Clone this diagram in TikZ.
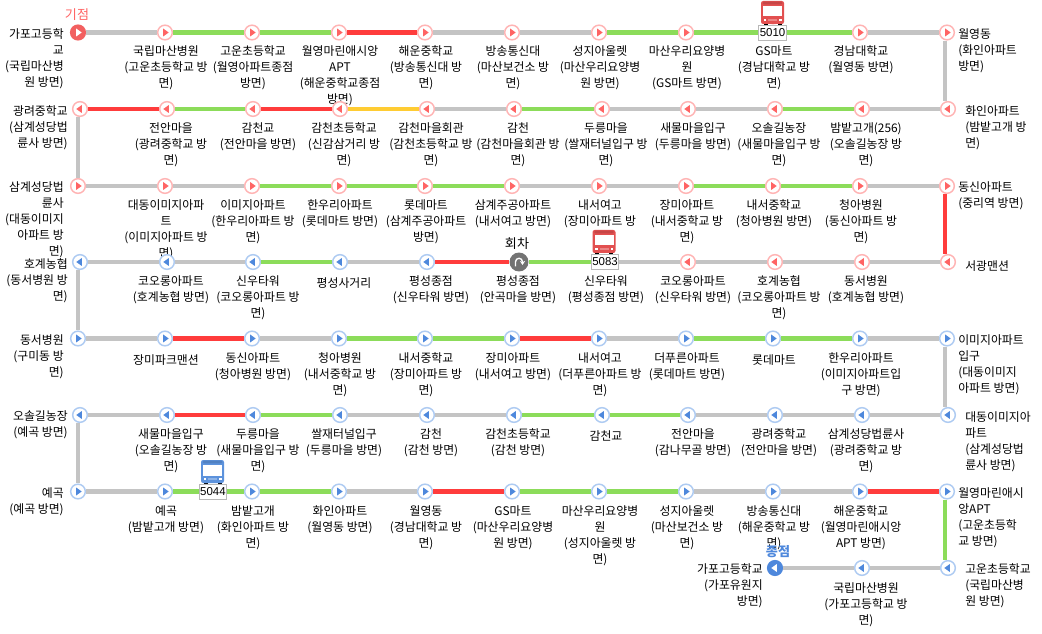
\documentclass[tikz,border=0pt]{standalone}
\usepackage{fontspec}
\setmainfont{Noto Sans CJK KR}
\newfontfamily\numfont{Liberation Sans}
\usetikzlibrary{arrows.meta}
\definecolor{lgray}{HTML}{C4C4C4}
\definecolor{lgreen}{HTML}{8CDC5A}
\definecolor{lred}{HTML}{FF3C3C}
\definecolor{lyellow}{HTML}{FFCC33}
\definecolor{pinkring}{HTML}{FFB4B4}
\definecolor{pinkfill}{HTML}{FF6464}
\definecolor{bluering}{HTML}{AECBF2}
\definecolor{bluefill}{HTML}{4E88DC}
\definecolor{startred}{HTML}{F26060}
\definecolor{busred}{HTML}{E25050}
\definecolor{busblue}{HTML}{5C92DC}
\tikzset{
  seg/.style={line width=3.7pt},
  stopbase/.style={circle,draw,inner sep=0pt,minimum size=11pt,line width=1.1pt,fill=white},
  rtri/.style={path picture={\fill[#1] ([shift={(-1.4pt,3pt)}]path picture bounding box.center) -- ([shift={(2.8pt,0pt)}]path picture bounding box.center) -- ([shift={(-1.4pt,-3pt)}]path picture bounding box.center) -- cycle;}},
  ltri/.style={path picture={\fill[#1] ([shift={(1.4pt,3pt)}]path picture bounding box.center) -- ([shift={(-2.8pt,0pt)}]path picture bounding box.center) -- ([shift={(1.4pt,-3pt)}]path picture bounding box.center) -- cycle;}},
  prstop/.style={stopbase,draw=pinkring,rtri=pinkfill},
  plstop/.style={stopbase,draw=pinkring,ltri=pinkfill},
  brstop/.style={stopbase,draw=bluering,rtri=bluefill},
  blstop/.style={stopbase,draw=bluering,ltri=bluefill},
  startstop/.style={stopbase,draw=startred,fill=startred,rtri=white},
  endstop/.style={stopbase,draw=bluefill,fill=bluefill,ltri=white},
  turnstop/.style={circle,inner sep=0pt,minimum size=14.2pt,fill=black!55,
    path picture={\draw[white,line width=1pt,-{Stealth[length=3pt,width=4pt]}]
      ([shift={(-2.6pt,-3.2pt)}]path picture bounding box.center) -- ++(0pt,3.4pt) arc[start angle=180,end angle=0,radius=2.6pt] -- ++(0pt,-2.4pt);}},
  labbase/.style={inner sep=0pt,font=\fontsize{8.9}{12}\selectfont,yshift=3.8pt,execute at begin node={\rule{0pt}{9pt}}},
  labc/.style={labbase,anchor=north,align=center},
  labr/.style={labbase,anchor=north east,align=right},
  labl/.style={labbase,anchor=north west,align=left},
  headlab/.style={inner sep=0pt,font=\fontsize{9.8}{12}\selectfont},
  numbox/.style={draw=black!28,fill=white,line width=0.75pt,inner sep=0pt,minimum width=20.5pt,minimum height=11.5pt,font=\numfont\fontsize{8.6}{10}\selectfont},
}
\newcommand\lbc[3]{\node[labc] (c#1x#2) at (#1,#2) {#3};}
\newcommand\lbr[3]{\node[labr] (r#1x#2) at (#1,#2) {#3};}
\newcommand\lbl[3]{\node[labl] (l#1x#2) at (#1,#2) {#3};}
% x centre, y top, colour
\newcommand\busicon[3]{%
  \begin{scope}[shift={(#1,#2)}]
    \fill[black] (-9,20) rectangle (-5,24.5);
    \fill[black] (5,20) rectangle (9,24.5);
    \fill[#3,rounded corners=1.6pt] (-11.5,0) rectangle (11.5,23);
    \fill[#3!88!black,rounded corners=1.2pt] (-10,0.6) rectangle (10,3.4);
    \fill[white] (-9.5,5) rectangle (9.5,15.5);
    \fill[white] (-9,18) rectangle (-6.5,19.6);
    \fill[white] (6.5,18) rectangle (9,19.6);
    \fill[#3!70!white] (-4.5,18) rectangle (4.5,19.6);
  \end{scope}}
\begin{document}
\begin{tikzpicture}[x=0.75pt,y=-0.75pt]
\useasboundingbox (0,0) rectangle (1042,634);
\fill[white] (0,0) rectangle (1042,634);
\coordinate (rv) at (945,0);
\coordinate (lv) at (78,0);
% labels, row 1
\lbr{64}{33}{가포고등학\\교\\(국립마산병\\원 방면)}
\lbc{166}{50}{국립마산병원\\(고운초등학교 방\\면)}
\lbc{253}{50}{고운초등학교\\(월영아파트종점\\방면)}
\lbc{340}{50}{월영마린애시앙\\APT\\(해운중학교종점\\방면)}
\lbc{426}{50}{해운중학교\\(방송통신대 방\\면)}
\lbc{513}{50}{방송통신대\\(마산보건소 방\\면)}
\lbc{600}{50}{성지아울렛\\(마산우리요양병\\원 방면)}
\lbc{687}{50}{마산우리요양병\\원\\(GS마트 방면)}
\lbc{774}{50}{GS마트\\(경남대학교 방\\면)}
\lbc{861}{50}{경남대학교\\(월영동 방면)}
\lbl{958}{33}{월영동\\(화인아파트\\방면)}
% row 2
\lbr{68}{110}{광려중학교\\(삼계성당법\\륜사 방면)}
\lbc{171}{127}{전안마을\\(광려중학교 방\\면)}
\lbc{258}{127}{감천교\\(전안마을 방면)}
\lbc{344}{127}{감천초등학교\\(신감삼거리 방\\면)}
\lbc{431}{127}{감천마을회관\\(감천초등학교 방\\면)}
\lbc{518}{127}{감천\\(감천마을회관 방\\면)}
\lbc{606}{127}{두릉마을\\(쌀재터널입구 방\\면)}
\lbc{693}{127}{새물마을입구\\(두릉마을 방면)}
\lbc{779}{127}{오솔길농장\\(새물마을입구 방\\면)}
\lbc{866}{127}{밤밭고개(256)\\(오솔길농장 방\\면)}
\lbl{965}{110}{화인아파트\\(밤밭고개 방\\면)}
% row 3
\lbr{64}{186}{삼계성당법\\륜사\\(대동이미지\\아파트 방\\면)}
\lbc{166}{204}{대동이미지아파\\트\\(이미지아파트 방\\면)}
\lbc{253}{204}{이미지아파트\\(한우리아파트 방\\면)}
\lbc{340}{204}{한우리아파트\\(롯데마트 방면)}
\lbc{426}{204}{롯데마트\\(삼계주공아파트\\방면)}
\lbc{513}{204}{삼계주공아파트\\(내서여고 방면)}
\lbc{600}{204}{내서여고\\(장미아파트 방\\면)}
\lbc{687}{204}{장미아파트\\(내서중학교 방\\면)}
\lbc{774}{204}{내서중학교\\(청아병원 방면)}
\lbc{861}{204}{청아병원\\(동신아파트 방\\면)}
\lbl{958}{186}{동신아파트\\(중리역 방면)}
% row 4
\lbr{68}{263}{호계농협\\(동서병원 방\\면)}
\lbc{171}{280}{코오롱아파트\\(호계농협 방면)}
\lbc{258}{280}{신우타워\\(코오롱아파트 방\\면)}
\lbc{344}{280}{평성사거리}
\lbc{431}{280}{평성종점\\(신우타워 방면)}
\lbc{518}{280}{평성종점\\(안곡마을 방면)}
\lbc{606}{280}{신우타워\\(평성종점 방면)}
\lbc{693}{280}{코오롱아파트\\(신우타워 방면)}
\lbc{779}{280}{호계농협\\(코오롱아파트 방\\면)}
\lbc{866}{280}{동서병원\\(호계농협 방면)}
\lbl{965}{263}{서광맨션}
% row 5
\lbr{64}{339}{동서병원\\(구미동 방\\면)}
\lbc{166}{357}{장미파크맨션}
\lbc{253}{357}{동신아파트\\(청아병원 방면)}
\lbc{340}{357}{청아병원\\(내서중학교 방\\면)}
\lbc{426}{357}{내서중학교\\(장미아파트 방\\면)}
\lbc{513}{357}{장미아파트\\(내서여고 방면)}
\lbc{600}{357}{내서여고\\(더푸른아파트 방\\면)}
\lbc{687}{357}{더푸른아파트\\(롯데마트 방면)}
\lbc{774}{357}{롯데마트}
\lbc{861}{357}{한우리아파트\\(이미지아파트입\\구 방면)}
\lbl{958}{339}{이미지아파트\\입구\\(대동이미지\\아파트 방면)}
% row 6
\lbr{68}{415}{오솔길농장\\(예곡 방면)}
\lbc{171}{433}{새물마을입구\\(오솔길농장 방\\면)}
\lbc{258}{433}{두릉마을\\(새물마을입구 방\\면)}
\lbc{344}{433}{쌀재터널입구\\(두릉마을 방면)}
\lbc{431}{433}{감천\\(감천 방면)}
\lbc{518}{433}{감천초등학교\\(감천 방면)}
\lbc{606}{433}{감천교}
\lbc{693}{433}{전안마을\\(감나무골 방면)}
\lbc{779}{433}{광려중학교\\(전안마을 방면)}
\lbc{866}{433}{삼계성당법륜사\\(광려중학교 방\\면)}
\lbl{965}{416}{대동이미지아\\파트\\(삼계성당법\\륜사 방면)}
% row 7
\lbr{64}{492}{예곡\\(예곡 방면)}
\lbc{166}{510}{예곡\\(밤밭고개 방면)}
\lbc{253}{510}{밤밭고개\\(화인아파트 방\\면)}
\lbc{340}{510}{화인아파트\\(월영동 방면)}
\lbc{426}{510}{월영동\\(경남대학교 방\\면)}
\lbc{513}{510}{GS마트\\(마산우리요양병\\원 방면)}
\lbc{600}{510}{마산우리요양병\\원\\(성지아울렛 방\\면)}
\lbc{687}{510}{성지아울렛\\(마산보건소 방\\면)}
\lbc{774}{510}{방송통신대\\(해운중학교 방\\면)}
\lbc{861}{510}{해운중학교\\(월영마린애시앙\\APT 방면)}
\lbl{958}{492}{월영마린애시\\앙APT\\(고운초등학\\교 방면)}
% row 8
\lbr{763}{568}{가포고등학교\\(가포유원지\\방면)}
\lbc{866}{587}{국립마산병원\\(가포고등학교 방\\면)}
\lbl{965}{568}{고운초등학교\\(국립마산병\\원 방면)}
% heads
\node[headlab,text=pinkfill] (kijeom) at (77,15) {기점};
\node[headlab,text=bluefill,font=\fontsize{9.8}{12}\selectfont\bfseries] (jongjeom) at (778,552) {종점};
\node[headlab] (hoecha) at (517,244) {회차};
% stops
\node[startstop] (s1a) at (78,32.5) {};
\foreach \n/\x in {b/165,c/252,d/339,e/425,f/512,g/599,h/686,i/773,j/860,k/947} \node[prstop] (s1\n) at (\x,32.5) {};
\foreach \n/\x in {a/80,b/167,c/253,d/340,e/427,f/514,g/602,h/688,i/775,j/862,k/948} \node[plstop] (s2\n) at (\x,109) {};
\foreach \n/\x in {a/78,b/165,c/252,d/339,e/425,f/512,g/599,h/686,i/773,j/860,k/947} \node[prstop] (s3\n) at (\x,186) {};
\foreach \n/\x in {a/80,b/167,c/253,d/340,e/427} \node[blstop] (s4\n) at (\x,262) {};
\node[turnstop] (s4f) at (519,262) {};
\foreach \n/\x in {g/604,h/688,i/775,j/862,k/948} \node[plstop] (s4\n) at (\x,262) {};
\foreach \n/\x in {a/78,b/165,c/252,d/339,e/425,f/512,g/599,h/686,i/773,j/860,k/947} \node[brstop] (s5\n) at (\x,338.5) {};
\foreach \n/\x in {a/80,b/167,c/253,d/340,e/427,f/514,g/602,h/688,i/775,j/862,k/948} \node[blstop] (s6\n) at (\x,415) {};
\foreach \n/\x in {a/78,b/165,c/252,d/339,e/425,f/512,g/599,h/686,i/773,j/860,k/947} \node[brstop] (s7\n) at (\x,491.5) {};
\node[endstop] (s8i) at (775,568) {};
\foreach \n/\x in {j/862,k/948} \node[blstop] (s8\n) at (\x,568) {};
% horizontal connectors
\foreach \a/\b/\c in {
 s1a/s1b/lgray,s1b/s1c/lgreen,s1c/s1d/lgreen,s1d/s1e/lred,s1e/s1f/lgray,s1f/s1g/lgray,s1g/s1h/lgreen,s1h/s1i/lgreen,s1i/s1j/lgreen,s1j/s1k/lgray,
 s2a/s2b/lred,s2b/s2c/lgreen,s2c/s2d/lred,s2d/s2e/lyellow,s2e/s2f/lgray,s2f/s2g/lgreen,s2g/s2h/lgray,s2h/s2i/lgray,s2i/s2j/lgreen,s2j/s2k/lgray,
 s3a/s3b/lgray,s3b/s3c/lgray,s3c/s3d/lgreen,s3d/s3e/lgreen,s3e/s3f/lgreen,s3f/s3g/lgray,s3g/s3h/lgray,s3h/s3i/lgreen,s3i/s3j/lgreen,s3j/s3k/lgray,
 s4a/s4b/lgray,s4b/s4c/lgray,s4c/s4d/lgreen,s4d/s4e/lgray,s4e/s4f/lred,s4f/s4g/lgreen,s4g/s4h/lgray,s4h/s4i/lgray,s4i/s4j/lgray,s4j/s4k/lgray,
 s5a/s5b/lgray,s5b/s5c/lred,s5c/s5d/lgray,s5d/s5e/lgreen,s5e/s5f/lgreen,s5f/s5g/lred,s5g/s5h/lgray,s5h/s5i/lgreen,s5i/s5j/lgreen,s5j/s5k/lgray,
 s6a/s6b/lgray,s6b/s6c/lred,s6c/s6d/lgreen,s6d/s6e/lgray,s6e/s6f/lgray,s6f/s6g/lgreen,s6g/s6h/lgreen,s6h/s6i/lgray,s6i/s6j/lgray,s6j/s6k/lgray,
 s7a/s7b/lgray,s7b/s7c/lgreen,s7c/s7d/lgreen,s7d/s7e/lgray,s7e/s7f/lred,s7f/s7g/lgreen,s7g/s7h/lgreen,s7h/s7i/lgray,s7i/s7j/lgray,s7j/s7k/lred,
 s8i/s8j/lgray,s8j/s8k/lgray}
 \draw[seg,\c] (\a) -- (\b);
% vertical connectors
\foreach \a/\b/\c in {s1k/s2k/lgray,s3k/s4k/lred,s5k/s6k/lgray,s7k/s8k/lgreen}
 \draw[seg,\c] (\a.south -| rv) -- (\b.north -| rv);
\foreach \a/\b/\c in {s2a/s3a/lgray,s4a/s5a/lgray,s6a/s7a/lgray}
 \draw[seg,\c] (\a.south -| lv) -- (\b.north -| lv);
% buses
\busicon{772.5}{1}{busred}
\node[numbox] (bus5010) at (772.5,33) {5010};
\busicon{604}{230}{busred}
\node[numbox] (bus5083) at (605,262) {5083};
\busicon{212.5}{460}{busblue}
\node[numbox] (bus5044) at (213,492) {5044};
\end{tikzpicture}
\end{document}
